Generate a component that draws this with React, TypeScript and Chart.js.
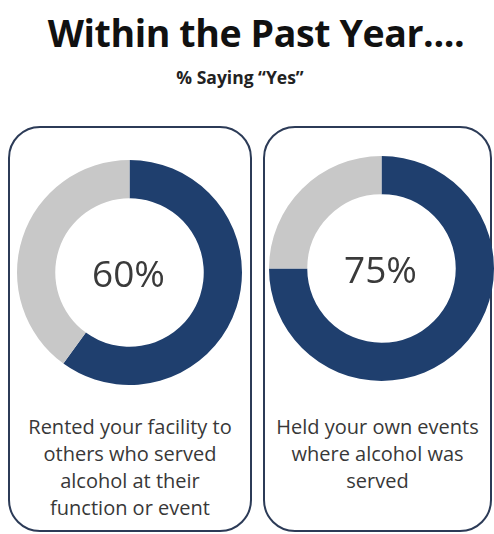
import React, { useEffect, useRef } from "react";
import { Chart, registerables } from "chart.js";

Chart.register(...registerables);

const TITLE = "Within the Past Year....";
const SUBTITLE = "% Saying \u201cYes\u201d";
const segmentLabels = ["Yes", "No"];
const yesValues = [60, 75];
const captions = [
  ["Rented your facility to", "others who served", "alcohol at their", "function or event"],
  ["Held your own events", "where alcohol was", "served"],
];
const YES_COLOR = "#1f3f6e";
const NO_COLOR = "#c8c8c8";

const centerTextPlugin = {
  id: "centerText",
  afterDraw(chart: any) {
    const { ctx, chartArea } = chart;
    const v = chart.data.datasets[0].data[0];
    const cx = (chartArea.left + chartArea.right) / 2;
    const cy = (chartArea.top + chartArea.bottom) / 2;
    ctx.save();
    ctx.fillStyle = "#3a3a3a";
    ctx.font = "37px 'Open Sans'";
    ctx.textAlign = "center";
    ctx.textBaseline = "middle";
    ctx.fillText(v + "%", cx - 1, cy + 4);
    ctx.restore();
  },
};

function Donut({ value }: { value: number }) {
  const ref = useRef<HTMLCanvasElement>(null);
  useEffect(() => {
    if (!ref.current) return;
    const chart = new Chart(ref.current, {
      type: "doughnut",
      data: {
        labels: segmentLabels,
        datasets: [
          {
            data: [value, 100 - value],
            backgroundColor: [YES_COLOR, NO_COLOR],
            borderWidth: 0,
          },
        ],
      },
      options: {
        animation: false,
        responsive: false,
        cutout: "66%",
        layout: { padding: 0 },
        plugins: { legend: { display: false }, tooltip: { enabled: false } },
      },
      plugins: [centerTextPlugin],
    });
    return () => chart.destroy();
  }, [value]);
  return <canvas ref={ref} width={225} height={225} style={{ width: 225, height: 225 }} />;
}

export default function App() {
  const boxes = [
    { left: 8, width: 244, donutLeft: 17, donutTop: 160 },
    { left: 263, width: 229, donutLeft: 269, donutTop: 156 },
  ];
  return (
    <div
      style={{
        position: "absolute",
        left: 0,
        top: 0,
        width: 494,
        height: 534,
        background: "#fff",
        fontFamily: "'Open Sans', sans-serif",
        overflow: "hidden",
      }}
    >
      <div
        style={{
          position: "absolute",
          top: 8,
          left: 14,
          width: 484,
          textAlign: "center",
          fontSize: 37.5,
          fontWeight: 700,
          color: "#111",
          letterSpacing: -0.4,
          lineHeight: "50px",
        }}
      >
        {TITLE}
      </div>
      <div
        style={{
          position: "absolute",
          top: 66,
          left: -14,
          width: 508,
          textAlign: "center",
          fontSize: 17.5,
          fontWeight: 700,
          color: "#222",
          lineHeight: "22px",
        }}
      >
        {SUBTITLE}
      </div>
      {boxes.map((b, i) => (
        <React.Fragment key={i}>
          <div
            style={{
              position: "absolute",
              left: b.left,
              top: 126,
              width: b.width,
              height: 406,
              boxSizing: "border-box",
              border: "2px solid #2c3b57",
              borderRadius: 32,
            }}
          />
          <div style={{ position: "absolute", left: b.donutLeft, top: b.donutTop }}>
            <Donut value={yesValues[i]} />
          </div>
          <div
            style={{
              position: "absolute",
              left: b.left,
              top: 413,
              width: b.width,
              textAlign: "center",
              fontSize: 20,
              color: "#383838",
              lineHeight: "27px",
            }}
          >
            {captions[i].map((line, j) => (
              <div key={j}>{line}</div>
            ))}
          </div>
        </React.Fragment>
      ))}
    </div>
  );
}
